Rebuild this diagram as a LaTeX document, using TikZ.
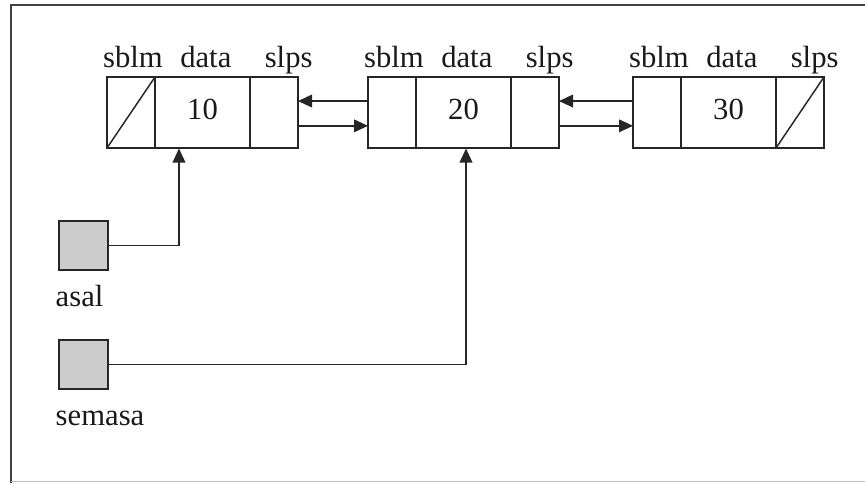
\documentclass[tikz,border=0pt]{standalone}
\usepackage{fontspec}
\setmainfont{Liberation Serif}
\usetikzlibrary{arrows.meta}
\begin{document}
\begin{tikzpicture}[x=0.75pt,y=-0.75pt,
  line width=1.1pt,
  every node/.style={font=\fontsize{23}{26}\selectfont, text=black!90},
  cell/.style={draw=black!85, minimum height=53.25pt, inner sep=0pt, outer sep=0pt, anchor=west},
  ptrcell/.style={cell, minimum width=36pt},
  datacell/.style={cell, minimum width=71.25pt},
  value/.style={inner sep=0pt},
  fieldlabel/.style={anchor=base, inner sep=0pt},
  ptrbox/.style={draw=black!85, line width=1.4pt, fill=gray!40, minimum width=36.75pt, minimum height=36.75pt, inner sep=0pt, outer sep=0pt},
  link/.style={draw=black!85, -{Triangle[length=10.5pt,width=9.5pt]}}
]
\useasboundingbox (0,0) rectangle (865,483);
% frame
\draw[black!75, line width=1.2pt] (11,483) -- (11,5) -- (865,5);
\draw[black!25, line width=0.8pt] (11,481.5) -- (865,481.5);

% node 1
\node[ptrcell] (p1) at (107,112.5) {};
\node[datacell] (d1) at (p1.east) {};
\node[ptrcell] (n1) at (d1.east) {};
% node 2
\node[ptrcell] (p2) at (368,112.5) {};
\node[datacell] (d2) at (p2.east) {};
\node[ptrcell] (n2) at (d2.east) {};
% node 3
\node[ptrcell] (p3) at (633,112.5) {};
\node[datacell] (d3) at (p3.east) {};
\node[ptrcell] (n3) at (d3.east) {};

% stored values
\node[value] (v1) at ([yshift=2.5pt]d1.center) {10};
\node[value] (v2) at ([yshift=2.5pt]d2.center) {20};
\node[value] (v3) at ([yshift=2.5pt]d3.center) {30};

% null links
\draw[black!85] (p1.south west) -- (p1.north east);
\draw[black!85] (n3.south west) -- (n3.north east);

% field labels
\foreach \i in {1,2,3}{
  \node[fieldlabel] at ([xshift=1.5pt,yshift=7.5pt]p\i.north) {sblm};
  \node[fieldlabel] at ([xshift=2.5pt,yshift=7.5pt]d\i.north) {data};
  \node[fieldlabel] at ([xshift=11pt,yshift=7.5pt]n\i.north) {slps};
}

% links between nodes
\draw[link] ([yshift=8.6pt]p2.west) -- ([yshift=8.6pt]n1.east);
\draw[link] ([yshift=-10pt]n1.east) -- ([yshift=-10pt]p2.west);
\draw[link] ([yshift=8.6pt]p3.west) -- ([yshift=8.6pt]n2.east);
\draw[link] ([yshift=-10pt]n2.east) -- ([yshift=-10pt]p3.west);

% external pointers
\node[ptrbox] (asal) at (83.5,245.5) {};
\node[anchor=base west, inner sep=0pt] (asallbl) at (55,306) {asal};
\node[ptrbox] (semasa) at (83.5,364.5) {};
\node[anchor=base west, inner sep=0pt] (semasalbl) at (55,425) {semasa};

\coordinate (c1) at (179,148.5);
\coordinate (c2) at (466,148.5);
\draw[link] (asal.east) -| (c1);
\draw[link] (semasa.east) -| (c2);
\end{tikzpicture}
\end{document}
